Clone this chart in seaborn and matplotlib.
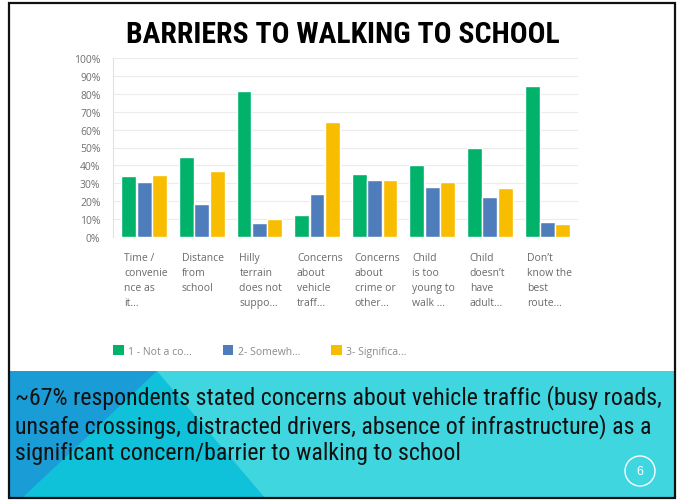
import matplotlib
matplotlib.use("Agg")
import matplotlib.pyplot as plt
from matplotlib.patches import Polygon, Rectangle, Circle, Patch
from matplotlib.transforms import ScaledTranslation
import seaborn as sns
import pandas as pd

categories = ["Time /\nconvenie\nnce as\nit...", "Distance\nfrom\nschool",
              "Hilly\nterrain\ndoes not\nsuppo...", "Concerns\nabout\nvehicle\ntraff...",
              "Concerns\nabout\ncrime or\nother...", "Child\nis too\nyoung to\nwalk ...",
              "Child\ndoesn’t\nhave\nadult...", "Don’t\nknow the\nbest\nroute..."]
series = ["1 - Not a co...", "2- Somewh...", "3- Significa..."]
not_a_concern = [34.0, 44.6, 81.4, 12.1, 35.4, 40.2, 49.7, 84.5]
somewhat = [30.9, 18.2, 7.8, 24.2, 31.8, 27.7, 22.3, 8.2]
significant = [34.6, 36.6, 9.9, 64.1, 31.8, 30.7, 27.1, 7.0]
yticks = [0, 10, 20, 30, 40, 50, 60, 70, 80, 90, 100]
colors = ["#00b26a", "#4f7dbb", "#f9bd00"]

title = "BARRIERS TO WALKING TO SCHOOL"
note = ("~67% respondents stated concerns about vehicle traffic (busy roads,\n"
        "unsafe crossings, distracted drivers, absence of infrastructure) as a\n"
        "significant concern/barrier to walking to school")
page = "6"

rows = []
for s, vals in zip(series, [not_a_concern, somewhat, significant]):
    for c, v in zip(categories, vals):
        rows.append({"cat": c, "series": s, "val": v})
df = pd.DataFrame(rows)

sns.set_theme(style="white")
plt.rcParams["font.family"] = ["Open Sans", "DejaVu Sans"]
COND = ["Roboto Condensed", "Archivo Narrow", "DejaVu Sans"]

W, H = 683, 502
fig = plt.figure(figsize=(W / 100, H / 100), dpi=100)
fig.patch.set_facecolor("white")

def fx(x):
    return x / W

def fy(y):
    return 1 - y / H

# bottom teal band
band_top = 372
fig.patches.append(Polygon([(fx(9), fy(band_top)), (fx(675), fy(band_top)),
                            (fx(675), fy(499)), (fx(9), fy(499))],
                           closed=True, transform=fig.transFigure,
                           facecolor="#3fd6df", edgecolor="none", zorder=0))
fig.patches.append(Polygon([(fx(157), fy(band_top)), (fx(9), fy(499)),
                            (fx(265), fy(499))],
                           closed=True, transform=fig.transFigure,
                           facecolor="#0fc1d9", edgecolor="none", zorder=0))
fig.patches.append(Polygon([(fx(9), fy(band_top)), (fx(157), fy(band_top)),
                            (fx(22), fy(499)), (fx(9), fy(499))],
                           closed=True, transform=fig.transFigure,
                           facecolor="#1a9cd7", edgecolor="none", zorder=0))

# slide frame
fig.patches.append(Rectangle((fx(9), fy(499)), fx(675) - fx(9), fy(4) - fy(499),
                             transform=fig.transFigure, facecolor="none",
                             edgecolor="#111111", linewidth=1.6, zorder=5))

# page number
fig.patches.append(Circle((6.40, (H - 472) / 100), 0.15, transform=fig.dpi_scale_trans,
                          facecolor="none", edgecolor="white", linewidth=1.0, zorder=4))
fig.text(fx(640), fy(472), page, color="white", fontsize=9, ha="center", va="center",
         family=["Liberation Sans", "DejaVu Sans"])

fig.text(fx(343), fy(35), title, fontsize=21.3, fontweight="bold", ha="center", va="center",
         family=COND, color="black")

fig.text(fx(15), fy(425), note, fontsize=17.2, ha="left", va="center",
         family=COND, color="#111111", linespacing=1.17)

# chart axes
ax = fig.add_axes([fx(113), fy(238), fx(578) - fx(113), fy(59) - fy(238)])
sns.barplot(data=df, x="cat", y="val", hue="series", palette=colors, width=0.8,
            gap=0.03, legend=False, ax=ax, order=categories, hue_order=series,
            saturation=1)
ax.set_xlim(-0.54, 7.53)
ax.set_ylim(0, 100)
ax.set_yticks(yticks)
ax.set_yticklabels([f"{t}%" for t in yticks])
ax.set_xlabel("")
ax.set_ylabel("")
ax.grid(axis="y", color="#ececec", linewidth=0.8)
ax.set_axisbelow(True)
for s in ["top", "right", "bottom"]:
    ax.spines[s].set_visible(False)
ax.spines["left"].set_color("#e2e2e2")
ax.spines["left"].set_linewidth(0.8)
ax.tick_params(axis="y", length=0, pad=9, labelsize=7.5, labelcolor="#707070")
ax.tick_params(axis="x", length=0, pad=11, labelsize=7.5, labelcolor="#6a6a6a")
off = ScaledTranslation(-0.2, 0, fig.dpi_scale_trans)
for lab in ax.get_xticklabels():
    lab.set_ha("left")
    lab.set_linespacing(1.5)
    lab.set_transform(lab.get_transform() + off)

handles = [Patch(facecolor=c, edgecolor="none") for c in colors]
leg = fig.legend(handles, series, loc="center left", bbox_to_anchor=(fx(104), fy(352)),
                 ncol=3, frameon=False, handlelength=1.0, handleheight=1.0,
                 handletextpad=0.4, columnspacing=3.0, fontsize=7.5)
for t in leg.get_texts():
    t.set_color("#8a8a8a")

fig.savefig("out.png", dpi=100, facecolor="white")
